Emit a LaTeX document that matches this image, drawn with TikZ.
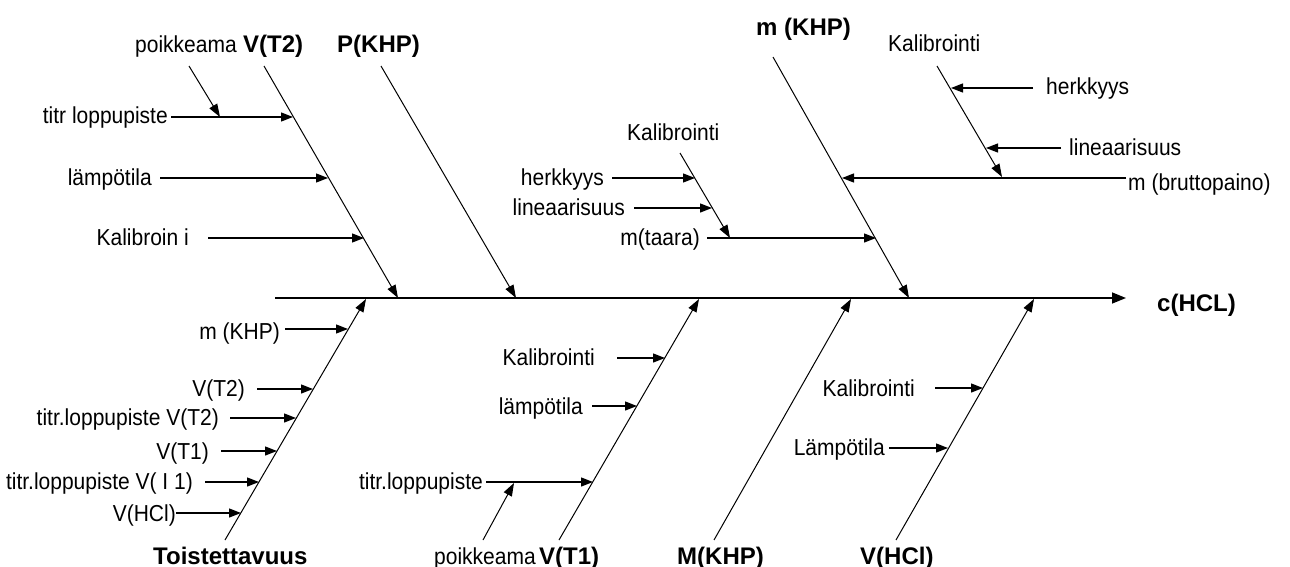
\documentclass[tikz,border=0pt]{standalone}
\usepackage{fontspec}
\setmainfont{Liberation Sans}
\usetikzlibrary{arrows.meta}
\newcommand{\vs}[1]{\scalebox{1}[1.1]{#1}}
\tikzset{
  txt/.style={inner sep=0pt, font=\fontsize{21}{25}\selectfont},
  btxt/.style={inner sep=0pt, font=\fontsize{24}{28}\selectfont\bfseries},
  arr/.style={-{Triangle[length=12pt,width=9pt]}, line width=1.3pt},
  bone/.style={-{Triangle[length=13pt,width=9pt]}, line width=1pt},
  spinearr/.style={-{Triangle[length=14pt,width=11pt]}, line width=1.5pt}
}
\begin{document}
\begin{tikzpicture}[x=1pt,y=-1pt]
\useasboundingbox (0,0) rectangle (1290,567);
% ---------- spine ----------
\coordinate (s0) at (275,298);
\coordinate (s1) at (1126,298);
\draw[spinearr] (s0) -- (s1);
\node[btxt, anchor=base west] (chcl) at (1157,311) {c(HCL)};

% ---------- top labels ----------
\node[txt, anchor=base west] (poikT2) at (135,53) {\vs{poikkeama}};
\node[btxt, anchor=base west] (vt2) at (243,53) {V(T2)};
\node[btxt, anchor=base west] (pkhp) at (337,53) {P(KHP)};
\node[btxt, anchor=base west] (mkhp) at (756,36) {m (KHP)};
\node[txt, anchor=base west] (kalTR) at (888,52) {\vs{Kalibrointi}};

% ---------- top bones ----------
\coordinate (a0) at (264,66);  \coordinate (a1) at (398,298);
\coordinate (b0) at (381,66);  \coordinate (b1) at (516,298);
\coordinate (c0) at (773,57);  \coordinate (c1) at (909,298);
\coordinate (d0) at (937,66);  \coordinate (d1) at (1002,177);
\coordinate (e0) at (680,153); \coordinate (e1) at (730,238);
\coordinate (p0) at (189,66);  \coordinate (p1) at (220,117);
\draw[bone] (a0) -- (a1);
\draw[bone] (b0) -- (b1);
\draw[bone] (c0) -- (c1);
\draw[bone] (d0) -- (d1);
\draw[bone] (e0) -- (e1);
\draw[bone] (p0) -- (p1);

% V(T2) causes
\node[txt, anchor=base east] (titrA) at (168,124) {\vs{titr loppupiste}};
\coordinate (ta0) at (171,117); \coordinate (ta1) at (293,117);
\draw[arr] (ta0) -- (ta1);
\node[txt, anchor=base east] (lampA) at (152,185) {\vs{lämpötila}};
\coordinate (la0) at (160,178); \coordinate (la1) at (328,178);
\draw[arr] (la0) -- (la1);
\node[txt, anchor=base east] (kalA) at (189,245) {\vs{Kalibroin i}};
\coordinate (ka0) at (208,238); \coordinate (ka1) at (364,238);
\draw[arr] (ka0) -- (ka1);

% top-right causes
\node[txt, anchor=base west] (herkR) at (1046,95) {\vs{herkkyys}};
\coordinate (hr0) at (1033,88); \coordinate (hr1) at (951,88);
\draw[arr] (hr0) -- (hr1);
\node[txt, anchor=base west] (linR) at (1069,155) {\vs{lineaarisuus}};
\coordinate (lr0) at (1061,148); \coordinate (lr1) at (986,148);
\draw[arr] (lr0) -- (lr1);
\node[txt, anchor=base west] (brutto) at (1128,190) {\vs{m (bruttopaino)}};
\coordinate (br0) at (1126,178); \coordinate (br1) at (842,178);
\draw[arr] (br0) -- (br1);

% middle causes
\node[txt, anchor=base west] (kalM) at (627,141) {\vs{Kalibrointi}};
\node[txt, anchor=base east] (herkM) at (604,185) {\vs{herkkyys}};
\coordinate (hm0) at (612,178); \coordinate (hm1) at (695,178);
\draw[arr] (hm0) -- (hm1);
\node[txt, anchor=base east] (linM) at (625,215) {\vs{lineaarisuus}};
\coordinate (lm0) at (634,208); \coordinate (lm1) at (712,208);
\draw[arr] (lm0) -- (lm1);
\node[txt, anchor=base east] (taara) at (700,245) {\vs{m(taara)}};
\coordinate (mt0) at (707,238); \coordinate (mt1) at (876,238);
\draw[arr] (mt0) -- (mt1);

% ---------- bottom bones ----------
\coordinate (f0) at (225,540); \coordinate (f1) at (366,299);
\coordinate (g0) at (559,540); \coordinate (g1) at (699,299);
\coordinate (h0) at (714,540); \coordinate (h1) at (851,299);
\coordinate (i0) at (896,540); \coordinate (i1) at (1034,299);
\coordinate (q0) at (483,540); \coordinate (q1) at (514,483);
\draw[bone] (f0) -- (f1);
\draw[bone] (g0) -- (g1);
\draw[bone] (h0) -- (h1);
\draw[bone] (i0) -- (i1);
\draw[bone] (q0) -- (q1);

\node[btxt, anchor=base west] (toist) at (153,564) {Toistettavuus};
\node[txt, anchor=base west] (poikT1) at (434,564) {\vs{poikkeama}};
\node[btxt, anchor=base west] (vt1) at (539,564) {V(T1)};
\node[btxt, anchor=base west] (mKHP) at (677,564) {M(KHP)};
\node[btxt, anchor=base west] (vhcl) at (860,564) {V(HCl)};

% Toistettavuus causes
\node[txt, anchor=base east] (fm) at (280,339) {\vs{m (KHP)}};
\coordinate (fm0) at (285,329); \coordinate (fm1) at (348,329);
\draw[arr] (fm0) -- (fm1);
\node[txt, anchor=base east] (fv2) at (245,396) {\vs{V(T2)}};
\coordinate (fv20) at (257,389); \coordinate (fv21) at (313,389);
\draw[arr] (fv20) -- (fv21);
\node[txt, anchor=base east] (ft2) at (219,425) {\vs{titr.loppupiste V(T2)}};
\coordinate (ft20) at (230,418); \coordinate (ft21) at (296,418);
\draw[arr] (ft20) -- (ft21);
\node[txt, anchor=base east] (fv1) at (209,459) {\vs{V(T1)}};
\coordinate (fv10) at (221,451); \coordinate (fv11) at (277,451);
\draw[arr] (fv10) -- (fv11);
\node[txt, anchor=base east] (ft1) at (193,489) {\vs{titr.loppupiste V( I 1)}};
\coordinate (ft10) at (205,482); \coordinate (ft11) at (259,482);
\draw[arr] (ft10) -- (ft11);
\node[txt, anchor=base east] (fh) at (176,521) {\vs{V(HCl)}};
\coordinate (fh0) at (176,513); \coordinate (fh1) at (241,513);
\draw[arr] (fh0) -- (fh1);

% V(T1) causes
\node[txt, anchor=base east] (gk) at (595,365) {\vs{Kalibrointi}};
\coordinate (gk0) at (617,358); \coordinate (gk1) at (665,358);
\draw[arr] (gk0) -- (gk1);
\node[txt, anchor=base east] (gl) at (583,414) {\vs{lämpötila}};
\coordinate (gl0) at (592,406); \coordinate (gl1) at (637,406);
\draw[arr] (gl0) -- (gl1);
\node[txt, anchor=base east] (gt) at (483,489) {\vs{titr.loppupiste}};
\coordinate (gt0) at (486,482); \coordinate (gt1) at (593,482);
\draw[arr] (gt0) -- (gt1);

% V(HCl) causes
\node[txt, anchor=base east] (ik) at (915,396) {\vs{Kalibrointi}};
\coordinate (ik0) at (935,388); \coordinate (ik1) at (983,388);
\draw[arr] (ik0) -- (ik1);
\node[txt, anchor=base east] (il) at (885,455) {\vs{Lämpötila}};
\coordinate (il0) at (889,448); \coordinate (il1) at (948,448);
\draw[arr] (il0) -- (il1);
\end{tikzpicture}
\end{document}
